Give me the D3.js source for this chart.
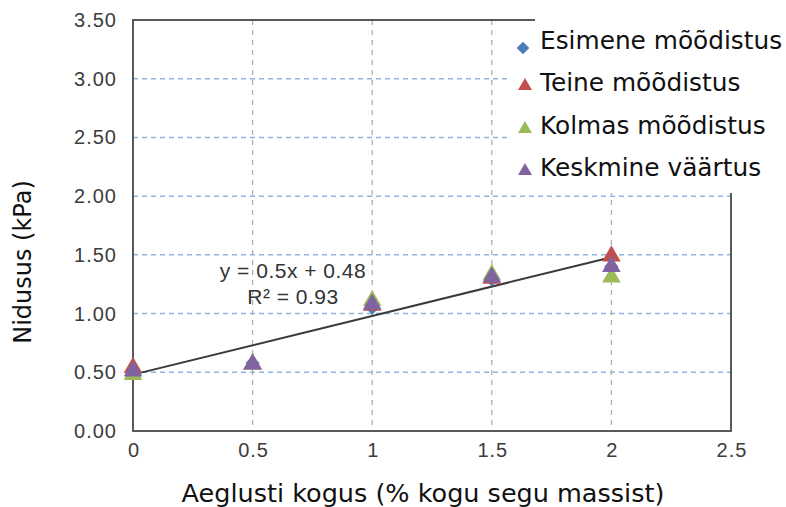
<!DOCTYPE html>
<html>
<head>
<meta charset="utf-8">
<script src="https://cdn.jsdelivr.net/npm/d3@7"></script>
<style>
  html, body { margin: 0; padding: 0; background: #fff; }
  svg { display: block; }
</style>
</head>
<body>
<svg id="chart" width="786" height="507"></svg>
<script>
// Setting-time measurements vs. retarder dosage
const dosage = [0, 0.5, 1, 1.5, 2];
const esimene = [0.51, 0.58, 1.05, 1.29, 1.40];
const teine = [0.54, 0.57, 1.07, 1.30, 1.49];
const kolmas = [0.48, 0.57, 1.11, 1.33, 1.31];
const keskmine = [0.51, 0.57, 1.08, 1.31, 1.40];

const seriesNames = ["Esimene mõõdistus", "Teine mõõdistus", "Kolmas mõõdistus", "Keskmine väärtus"];
const seriesColors = ["#4a7ebb", "#c0504d", "#9bbb59", "#8064a2"];
const seriesShapes = ["diamond", "triangle", "triangle", "triangle"];

const xTicks = [0, 0.5, 1, 1.5, 2, 2.5];
const yTicks = [0, 0.5, 1, 1.5, 2, 2.5, 3, 3.5];

// Linear trend: y = 0.5x + 0.48, R² = 0.93
const trendSlope = 0.5;
const trendIntercept = 0.48;
const trendRange = [0, 2];
const trendLabel = ["y = 0.5x + 0.48", "R² = 0.93"];

const xTitle = "Aeglusti kogus (% kogu segu massist)";
const yTitle = "Nidusus (kPa)";

const svg = d3.select("#chart");
const plotLeft = 133, plotRight = 731, plotTop = 20, plotBottom = 431;

const x = d3.scaleLinear().domain([0, 2.5]).range([plotLeft, plotRight]);
const y = d3.scaleLinear().domain([0, 3.5]).range([plotBottom, plotTop]);

// Horizontal gridlines (blue dashed)
svg.append("g").selectAll("line")
  .data(yTicks.filter(v => v > 0 && v < 3.5))
  .join("line")
  .attr("x1", plotLeft).attr("x2", plotRight)
  .attr("y1", d => y(d)).attr("y2", d => y(d))
  .attr("stroke", "#8db3e2").attr("stroke-width", 1.5)
  .attr("stroke-dasharray", "5,4");

// Vertical gridlines (grey dashed)
svg.append("g").selectAll("line")
  .data(xTicks.filter(v => v > 0 && v < 2.5))
  .join("line")
  .attr("x1", d => x(d)).attr("x2", d => x(d))
  .attr("y1", plotTop).attr("y2", plotBottom)
  .attr("stroke", "#b0b0b0").attr("stroke-width", 1.3)
  .attr("stroke-dasharray", "5,5");

// Plot frame
svg.append("rect")
  .attr("x", plotLeft).attr("y", plotTop)
  .attr("width", plotRight - plotLeft).attr("height", plotBottom - plotTop)
  .attr("fill", "none").attr("stroke", "#5a5a5a").attr("stroke-width", 2);

// Axis tick labels
const tickFont = "'Liberation Sans', Arial, sans-serif";
svg.append("g").selectAll("text")
  .data(yTicks)
  .join("text")
  .attr("x", 117).attr("y", d => y(d) + 7)
  .attr("text-anchor", "end")
  .attr("font-family", tickFont).attr("font-size", 20)
  .attr("letter-spacing", 1)
  .attr("fill", "#3c3c3c")
  .text(d => d3.format(".2f")(d));

svg.append("g").selectAll("text")
  .data(xTicks)
  .join("text")
  .attr("x", d => x(d) + 1).attr("y", 457)
  .attr("text-anchor", "middle")
  .attr("font-family", tickFont).attr("font-size", 20)
  .attr("letter-spacing", 1)
  .attr("fill", "#3c3c3c")
  .text(d => String(d));

// Axis titles
const titleFont = "'DejaVu Sans', Verdana, sans-serif";
svg.append("text")
  .attr("x", 423).attr("y", 502)
  .attr("text-anchor", "middle")
  .attr("font-family", titleFont).attr("font-size", 25.5)
  .attr("fill", "#111")
  .text(xTitle);

svg.append("text")
  .attr("transform", "translate(31,262) rotate(-90)")
  .attr("text-anchor", "middle")
  .attr("font-family", titleFont).attr("font-size", 24)
  .attr("fill", "#111")
  .text(yTitle);

// Trendline
svg.append("line")
  .attr("x1", x(trendRange[0])).attr("y1", y(trendSlope * trendRange[0] + trendIntercept))
  .attr("x2", x(trendRange[1])).attr("y2", y(trendSlope * trendRange[1] + trendIntercept))
  .attr("stroke", "#3a3a3a").attr("stroke-width", 2);

// Marker shapes: square rotated into a diamond, or an upright triangle
const markerPath = (shape, size) => shape === "diamond"
  ? d3.symbol().type(d3.symbolSquare).size(size)()
  : d3.symbol().type(d3.symbolTriangle).size(size)();
const markerRotate = shape => shape === "diamond" ? " rotate(45)" : "";

// Data points
const allSeries = [esimene, teine, kolmas, keskmine];
allSeries.forEach((vals, i) => {
  svg.append("g").selectAll("path")
    .data(vals)
    .join("path")
    .attr("transform", (d, j) => `translate(${x(dosage[j])},${y(d)})` + markerRotate(seriesShapes[i]))
    .attr("d", markerPath(seriesShapes[i], seriesShapes[i] === "diamond" ? 100 : 150))
    .attr("fill", seriesColors[i]);
});

// Trend equation
svg.append("g").selectAll("text")
  .data(trendLabel)
  .join("text")
  .attr("x", 293)
  .attr("y", (d, i) => 278 + i * 26)
  .attr("text-anchor", "middle")
  .attr("font-family", tickFont).attr("font-size", 21)
  .attr("letter-spacing", 0.5)
  .attr("fill", "#333")
  .text(d => d);

// Legend panel
svg.append("rect").attr("x", 508).attr("y", 23).attr("width", 278).attr("height", 170).attr("fill", "#fff");
svg.append("rect").attr("x", 535).attr("y", 0).attr("width", 251).attr("height", 193).attr("fill", "#fff");

const legendRowY = [41, 83, 126, 168];
const legend = svg.append("g").selectAll("g")
  .data(seriesNames)
  .join("g")
  .attr("transform", (d, i) => `translate(0,${legendRowY[i]})`);

legend.append("path")
  .attr("transform", (d, i) => seriesShapes[i] === "diamond"
    ? `translate(523,7)${markerRotate("diamond")}`
    : `translate(525,3)`)
  .attr("d", (d, i) => markerPath(seriesShapes[i], seriesShapes[i] === "diamond" ? 80 : 85))
  .attr("fill", (d, i) => seriesColors[i]);

legend.append("text")
  .attr("x", 540).attr("y", 8)
  .attr("font-family", titleFont).attr("font-size", 24.8)
  .attr("fill", "#111")
  .text(d => d);
</script>
</body>
</html>
